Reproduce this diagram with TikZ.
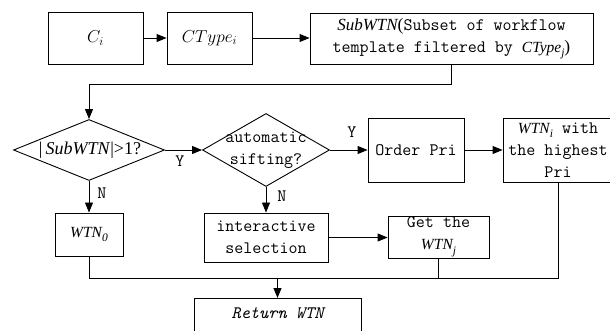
\documentclass[tikz,border=0pt]{standalone}
\usepackage{fontspec}
\setmainfont{Liberation Serif}
\usetikzlibrary{shapes.geometric,arrows.meta}
% lowered index after an italic variable name
\newcommand{\lowidx}[1]{\raisebox{-0.3em}{\fontsize{11.5}{11.5}\selectfont #1}}
% italic serif variable name, optional size
\newcommand{\wfvar}[2][17]{{\rmfamily\itshape\fontsize{#1}{#1}\selectfont #2}}
% template name with its index
\newcommand{\wtn}[1]{{\rmfamily\itshape\fontsize{15.5}{15.5}\selectfont WTN\lowidx{#1}}}
% variable set as a formula
\newcommand{\wfmath}[1]{{\fontsize{17}{17}\selectfont$#1$}}
\begin{document}
\begin{tikzpicture}[x=1pt,y=-1pt,line width=0.9pt,
  every node/.style={font=\ttfamily\fontsize{17.5}{22}\selectfont},
  box/.style={draw, rectangle, inner sep=0pt, align=center},
  dec/.style={draw, diamond, inner sep=0pt},
  txt/.style={inner sep=0pt, align=center},
  arr/.style={-{Triangle[length=10pt,width=8pt]}}
]
\useasboundingbox (0,0) rectangle (610,331);

% first row
\node[box, minimum width=95pt, minimum height=52pt] (ci) at (95.5,38) {\wfmath{C_i}};
\node[box, minimum width=85pt, minimum height=52pt] (ctype) at (209.5,38) {\wfmath{CType_i}};
\node[box, minimum width=283pt, minimum height=51pt] (sub) at (451.5,38.5)
  {\wfvar{SubWTN}{\rmfamily(}Subset of workflow\\template filtered by \wfvar[15.5]{CType\lowidx{j}}{\rmfamily)}};

% decisions
\node[dec, minimum width=151pt, minimum height=61pt] (d1) at (89,150) {};
\node[txt] (d1t) at (90,150) {\rmfamily\fontsize{18}{18}\selectfont\textbar\,\textit{SubWTN}\textbar{}>1?};
\node[dec, minimum width=127pt, minimum height=73pt] (d2) at (266,150) {};
\node[txt] (d2t) at (266,150) {automatic\\sifting?};

% right branch
\node[box, minimum width=96pt, minimum height=64pt] (ord) at (416,150) {Order Pri};
\node[box, minimum width=110pt, minimum height=64pt] (best) at (558,150)
  {\wtn{i} with\\the highest\\Pri};

% lower row
\node[box, minimum width=68pt, minimum height=43pt] (w0) at (89,234.5) {\wtn{0}};
\node[box, minimum width=124pt, minimum height=49pt] (inter) at (266,237.5) {interactive\\selection};
\node[box, minimum width=101pt, minimum height=42pt] (getj) at (438.5,237) {Get the\\\wtn{j}};

% result
\node[box, minimum width=167pt, minimum height=48pt, anchor=north] (ret) at (277.5,298) {};
\node[txt] (rett) at (277.5,313) {\itshape Return WTN};

% branch labels
\node[txt] (ly1) at (180,161) {Y};
\node[txt] (ly2) at (352,132) {Y};
\node[txt] (ln1) at (102,193) {N};
\node[txt] (ln2) at (282,196) {N};

% connectors
\coordinate (topbend) at (0,84);
\coordinate (merge) at (0,278);
\draw[arr] (ci.east) -- (ci.east -| ctype.west);
\draw[arr] (ctype.east) -- (ctype.east -| sub.west);
\draw[arr] (sub.south) -- (sub.south |- topbend) -| (d1.north);
\draw[arr] (d1.east) -- (d2.west);
\draw[arr] (d2.east) -- (ord.west);
\draw[arr] (ord.east) -- (best.west);
\draw[arr] (d1.south) -- (w0.north);
\draw[arr] (d2.south) -- (inter.north);
\draw[arr] (inter.east) -- (inter.east -| getj.west);
\draw (w0.south) |- (best.south |- merge) -- (best.south);
\draw (getj.south) -- (getj.south |- merge);
\draw[arr] (ret.north |- merge) -- (ret.north);
\end{tikzpicture}
\end{document}
